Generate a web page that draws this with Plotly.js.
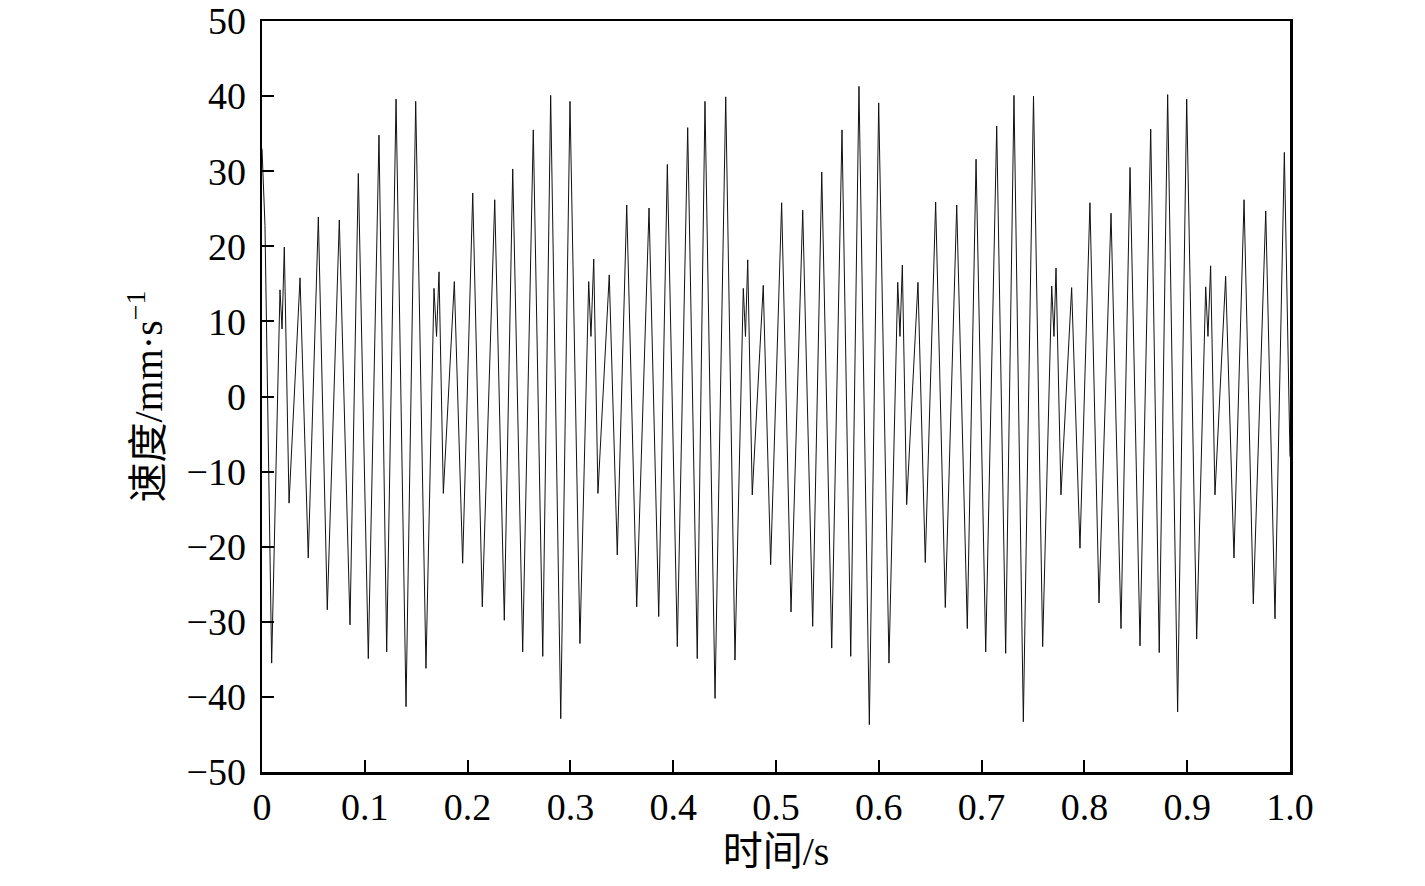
<!DOCTYPE html>
<html>
<head>
<meta charset="utf-8">
<script src="https://cdn.plot.ly/plotly-3.0.1.min.js"></script>
<style>
  html, body { margin: 0; padding: 0; background: #fff; }
  #chart { width: 1425px; height: 886px; }
</style>
</head>
<body>
<div id="chart"></div>
<script>
// --- Data (peaks, troughs and a few notches) ---
const timeS = [
  0, 0.0029, 0.0094, 0.0175, 0.0195, 0.0217, 0.0263, 0.0370, 0.0450, 0.0548,
  0.0635, 0.0752, 0.0856, 0.0937, 0.1034, 0.1138, 0.1213, 0.1304, 0.1401, 0.1495,
  0.1595, 0.1673, 0.1698, 0.1722, 0.1764, 0.1871, 0.1952, 0.2050, 0.2143, 0.2264,
  0.2357, 0.2439, 0.2536, 0.2639, 0.2731, 0.2808, 0.2906, 0.2996, 0.3093, 0.3178,
  0.3200, 0.3227, 0.3268, 0.3378, 0.3456, 0.3548, 0.3645, 0.3765, 0.3859, 0.3943,
  0.4040, 0.4141, 0.4234, 0.4309, 0.4407, 0.4511, 0.4601, 0.4682, 0.4703, 0.4725,
  0.4769, 0.4876, 0.4948, 0.5055, 0.5146, 0.5260, 0.5357, 0.5445, 0.5542, 0.5642,
  0.5727, 0.5807, 0.5908, 0.5999, 0.6099, 0.6184, 0.6206, 0.6229, 0.6271, 0.6381,
  0.6452, 0.6553, 0.6647, 0.6758, 0.6861, 0.6946, 0.7040, 0.7147, 0.7234, 0.7315,
  0.7406, 0.7505, 0.7594, 0.7682, 0.7704, 0.7724, 0.7772, 0.7876, 0.7957, 0.8054,
  0.8142, 0.8259, 0.8356, 0.8444, 0.8541, 0.8645, 0.8728, 0.8810, 0.8907, 0.8995,
  0.9092, 0.9180, 0.9202, 0.9228, 0.9270, 0.9374, 0.9455, 0.9553, 0.9643, 0.9764,
  0.9854, 0.9945, 1.0
];

const velocity = [
  33, 22.8, -35.5, 14.2, 9, 19.9, -14.2, 15.8, -21.5, 23.9,
  -28.4, 23.5, -30.4, 29.7, -34.9, 34.8, -34.0, 39.6, -41.3, 39.3,
  -36.2, 14.4, 8, 16.6, -12.9, 15.3, -22.2, 27.1, -28.0, 26.2,
  -29.8, 30.3, -34.0, 35.5, -34.6, 40.1, -42.9, 39.3, -32.9, 15.3,
  8, 18.3, -12.9, 16.2, -21.1, 25.5, -28.0, 25.1, -29.3, 30.9,
  -33.3, 35.8, -34.9, 39.3, -40.2, 39.9, -35.1, 14.4, 8, 18.2,
  -13.1, 14.8, -22.4, 25.8, -28.7, 24.8, -30.6, 29.9, -33.5, 35.5,
  -34.6, 41.3, -43.7, 39.1, -35.5, 15.2, 8, 17.5, -14.4, 15.2,
  -22.1, 25.9, -28.1, 25.5, -30.9, 31.6, -34.0, 36.0, -34.2, 40.1,
  -43.3, 40.0, -33.3, 14.7, 8, 17.1, -13.1, 14.5, -20.2, 25.8,
  -27.5, 24.4, -30.9, 30.5, -33.2, 35.6, -34.1, 40.2, -42.0, 39.6,
  -32.3, 14.6, 8, 17.4, -13.1, 16.0, -21.5, 26.2, -27.6, 24.7,
  -29.6, 32.5, -8
];

const xTickVals = [0, 0.1, 0.2, 0.3, 0.4, 0.5, 0.6, 0.7, 0.8, 0.9, 1.0];
const xTickText = ['0', '0.1', '0.2', '0.3', '0.4', '0.5', '0.6', '0.7', '0.8', '0.9', '1.0'];
const yTickVals = [-50, -40, -30, -20, -10, 0, 10, 20, 30, 40, 50];

const xTitle = '时间/s';
const yTitle = '速度/mm·s<sup>−1</sup>';

// --- Chart ---
const serif = 'Liberation Serif, Times New Roman, Noto Sans CJK SC, serif';

const trace = {
    x: timeS,
    y: velocity,
    type: 'scatter',
    mode: 'lines',
    line: { color: '#111', width: 1 },
    hoverinfo: 'skip'
};

const axisBase = {
    showgrid: false,
    zeroline: false,
    showline: true,
    linecolor: '#000',
    linewidth: 2.5,
    mirror: true,
    ticks: 'inside',
    ticklen: 12,
    tickwidth: 2,
    tickcolor: '#000',
    ticklabeloverflow: 'allow',
    tickfont: { family: serif, size: 38, color: '#000' }
};

const layout = {
    width: 1425,
    height: 886,
    paper_bgcolor: '#fff',
    plot_bgcolor: '#fff',
    margin: { l: 262, r: 135, t: 21, b: 114 },
    showlegend: false,
    xaxis: Object.assign({}, axisBase, {
        range: [0, 1.0],
        tickmode: 'array',
        tickvals: xTickVals,
        ticktext: xTickText,
        ticklabelstandoff: 0,
        automargin: true,
        title: { text: xTitle, font: { family: serif, size: 40, color: '#000' }, standoff: 10 }
    }),
    yaxis: Object.assign({}, axisBase, {
        range: [-50, 50],
        tickmode: 'array',
        tickvals: yTickVals,
        ticklabelstandoff: 6,
        title: { text: yTitle, font: { family: serif, size: 40, color: '#000' }, standoff: 12 }
    })
};

Plotly.newPlot('chart', [trace], layout, { displayModeBar: false, staticPlot: true });
</script>
</body>
</html>
